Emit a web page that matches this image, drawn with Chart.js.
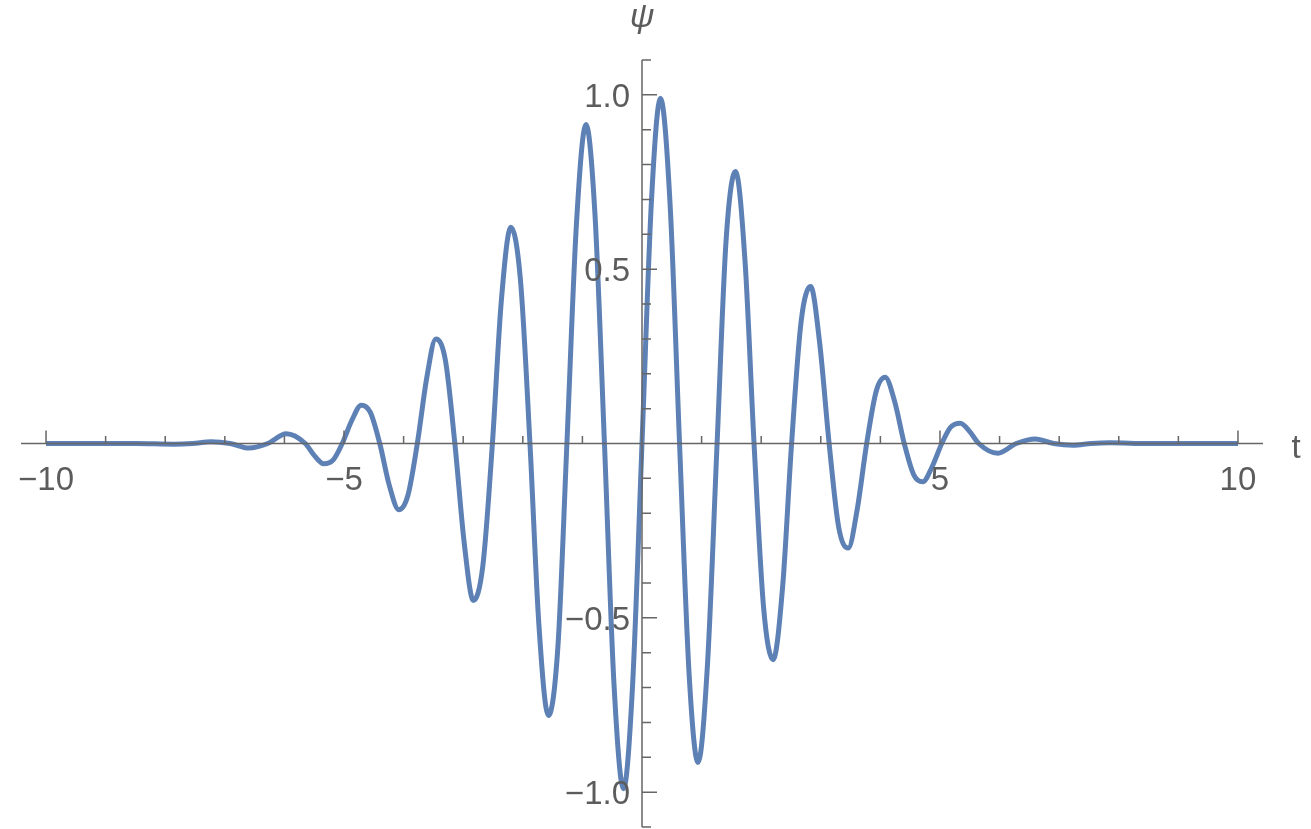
<!DOCTYPE html>
<html>
<head>
<meta charset="utf-8">
<script src="https://cdn.jsdelivr.net/npm/chart.js@4/dist/chart.umd.min.js"></script>
<style>
  html, body { margin: 0; padding: 0; background: #fff; }
  #wrap { width: 1311px; height: 829px; position: relative; }
</style>
</head>
<body>
<div id="wrap"><canvas id="chart"></canvas></div>
<script>
// values: t (x) and psi (y)
const tValues = [
  -10, -9, -8.5, -7.85, -7.54, -7.23, -6.91, -6.60, -6.28, -5.97, -5.65, -5.50, -5.34, -5.18,
  -5.03, -4.87, -4.71, -4.56, -4.40, -4.24, -4.08, -3.93, -3.77, -3.61, -3.46, -3.30, -3.14,
  -2.98, -2.83, -2.67, -2.51, -2.36, -2.20, -2.04, -1.88, -1.73, -1.57, -1.41, -1.26, -1.10,
  -0.94, -0.79, -0.63, -0.47, -0.31, -0.16,
  0,
  0.16, 0.31, 0.47, 0.63, 0.79, 0.94, 1.10, 1.26, 1.41, 1.57, 1.73, 1.88, 2.04, 2.20, 2.36,
  2.51, 2.67, 2.83, 2.98, 3.14, 3.30, 3.46, 3.61, 3.77, 3.93, 4.08, 4.24, 4.40, 4.56, 4.71,
  4.87, 5.03, 5.18, 5.34, 5.50, 5.65, 5.97, 6.28, 6.60, 6.91, 7.23, 7.54, 7.85, 8.5, 9, 10
];
const psiValues = [
  0, 0, 0, -0.002, 0, 0.005, 0, -0.013, 0, 0.028, 0, -0.034, -0.058, -0.047,
  0, 0.066, 0.11, 0.09, 0, -0.12, -0.19, -0.15, 0, 0.19, 0.30, 0.24, 0,
  -0.29, -0.45, -0.35, 0, 0.41, 0.62, 0.47, 0, -0.52, -0.78, -0.58, 0, 0.63,
  0.915, 0.66, 0, -0.69, -0.99, -0.70,
  0,
  0.70, 0.99, 0.69, 0, -0.66, -0.915, -0.63, 0, 0.58, 0.78, 0.52, 0, -0.47, -0.62, -0.41,
  0, 0.35, 0.45, 0.29, 0, -0.24, -0.30, -0.19, 0, 0.15, 0.19, 0.12, 0, -0.09, -0.11,
  -0.066, 0, 0.047, 0.058, 0.034, 0, -0.028, 0, 0.013, 0, -0.005, 0, 0.002, 0, 0, 0
];

const xTickValues = [-10, -5, 5, 10];
const xTickLabels = ['\u221210', '\u22125', '5', '10'];
const yTickValues = [-1, -0.5, 0.5, 1];
const yTickLabels = ['\u22121.0', '\u22120.5', '0.5', '1.0'];

const lineColor = '#5E81B5';
const axisColor = '#666666';
const textColor = '#5c5c5c';
const labelFont = '33px "Liberation Sans", Arial, sans-serif';

// Mathematica-like axes crossing at the origin, drawn over the curve
const crossAxes = {
  id: 'crossAxes',
  afterDatasetsDraw(chart) {
    const ctx = chart.ctx;
    const xs = chart.scales.x;
    const ys = chart.scales.y;
    const x0 = xs.getPixelForValue(0);
    const y0 = ys.getPixelForValue(0);

    ctx.save();
    ctx.strokeStyle = axisColor;
    ctx.lineWidth = 1.5;
    ctx.beginPath();
    ctx.moveTo(xs.left, y0);
    ctx.lineTo(xs.right, y0);
    ctx.moveTo(x0, ys.top);
    ctx.lineTo(x0, ys.bottom);

    for (let v = -10; v <= 10; v++) {
      if (v === 0) continue;
      const len = xTickValues.includes(v) ? 13 : 7.5;
      const px = xs.getPixelForValue(v);
      ctx.moveTo(px, y0);
      ctx.lineTo(px, y0 - len);
    }
    for (let i = -11; i <= 11; i++) {
      if (i === 0) continue;
      const v = i / 10;
      const major = yTickValues.some(m => Math.abs(m - v) < 1e-9);
      const py = ys.getPixelForValue(v);
      ctx.moveTo(x0, py);
      ctx.lineTo(x0 + (major ? 15 : 9), py);
    }
    ctx.stroke();

    ctx.fillStyle = textColor;
    ctx.font = labelFont;
    ctx.textBaseline = 'alphabetic';
    ctx.textAlign = 'center';
    xTickValues.forEach((v, i) => {
      ctx.fillText(xTickLabels[i], xs.getPixelForValue(v), y0 + 46);
    });
    ctx.textAlign = 'right';
    yTickValues.forEach((v, i) => {
      ctx.fillText(yTickLabels[i], x0 - 12, ys.getPixelForValue(v) + 12);
    });

    // axis names
    ctx.textAlign = 'center';
    ctx.fillText('t', xs.right + 33, y0 + 14);
    ctx.font = 'italic 34px "Liberation Sans", Arial, sans-serif';
    ctx.textBaseline = 'middle';
    ctx.fillText('\u03C8', x0, ys.top - 42);
    ctx.restore();
  }
};

const points = tValues.map((t, i) => ({ x: t, y: psiValues[i] }));

new Chart(document.getElementById('chart'), {
  type: 'line',
  data: {
    datasets: [{
      label: 'psi',
      data: points,
      borderColor: lineColor,
      borderWidth: 5,
      pointRadius: 0,
      fill: false,
      cubicInterpolationMode: 'monotone',
      clip: false
    }]
  },
  options: {
    responsive: true,
    maintainAspectRatio: false,
    animation: false,
    layout: { padding: { left: 21, right: 48, top: 60, bottom: 2 } },
    plugins: {
      legend: { display: false },
      tooltip: { enabled: false }
    },
    scales: {
      x: { type: 'linear', min: -10.42, max: 10.42, display: false },
      y: { type: 'linear', min: -1.1, max: 1.1, display: false }
    }
  },
  plugins: [crossAxes]
});
</script>
</body>
</html>
